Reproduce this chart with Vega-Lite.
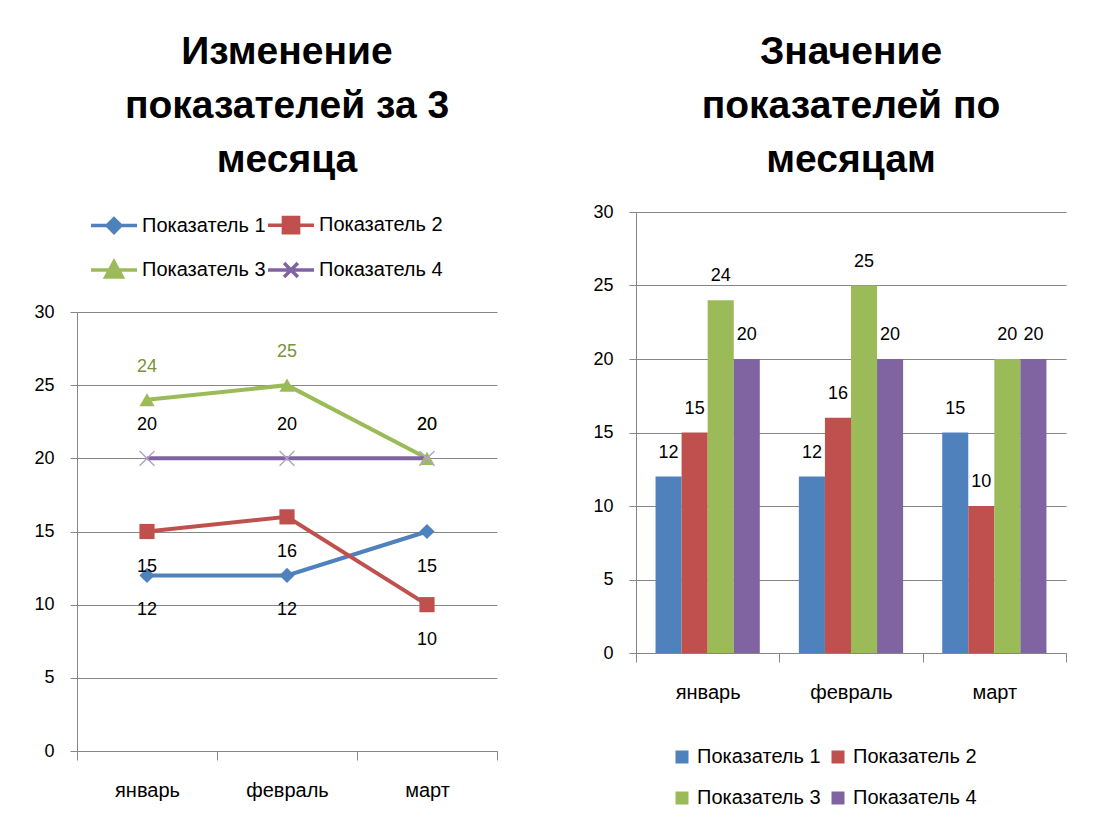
{
  "$schema": "https://vega.github.io/schema/vega-lite/v6.json",
  "background": "white",
  "padding": {"left": 33, "top": 33, "right": 5, "bottom": 5},
  "datasets": {
    "d": [
      {"month": "январь", "series": "Показатель 1", "value": 12},
      {"month": "февраль", "series": "Показатель 1", "value": 12},
      {"month": "март", "series": "Показатель 1", "value": 15},
      {"month": "январь", "series": "Показатель 2", "value": 15},
      {"month": "февраль", "series": "Показатель 2", "value": 16},
      {"month": "март", "series": "Показатель 2", "value": 10},
      {"month": "январь", "series": "Показатель 3", "value": 24},
      {"month": "февраль", "series": "Показатель 3", "value": 25},
      {"month": "март", "series": "Показатель 3", "value": 20},
      {"month": "январь", "series": "Показатель 4", "value": 20},
      {"month": "февраль", "series": "Показатель 4", "value": 20},
      {"month": "март", "series": "Показатель 4", "value": 20}
    ]
  },
  "config": {
    "font": "Liberation Sans",
    "view": {"stroke": null},
    "axis": {
      "labelFont": "Liberation Sans",
      "labelFontSize": 18,
      "labelColor": "#000",
      "domainColor": "#868686",
      "tickColor": "#868686",
      "gridColor": "#868686",
      "gridOpacity": 1,
      "domainWidth": 1,
      "tickWidth": 1
    },
    "axisX": {"labelFontSize": 20},
    "title": {
      "font": "Liberation Sans",
      "fontSize": 39,
      "fontWeight": "bold",
      "color": "#000",
      "lineHeight": 54,
      "anchor": "middle"
    },
    "legend": {
      "labelFont": "Liberation Sans",
      "labelFontSize": 20,
      "labelColor": "#000"
    }
  },
  "spacing": 94,
  "resolve": {
    "scale": {"color": "independent", "shape": "independent", "x": "independent", "y": "independent", "xOffset": "independent"},
    "legend": {"color": "independent", "shape": "independent"}
  },
  "hconcat": [
    {
      "width": 420,
      "height": 439,
      "title": {"text": ["Изменение", "показателей за 3", "месяца"], "offset": 20},
      "data": {"name": "d"},
      "encoding": {
        "x": {
          "field": "month", "type": "nominal",
          "sort": ["январь", "февраль", "март"],
          "scale": {"type": "band", "paddingInner": 0, "paddingOuter": 0},
          "axis": {"title": null, "labelAngle": 0, "tickBand": "extent", "tickSize": 9, "labelPadding": 20, "grid": false}
        },
        "y": {
          "field": "value", "type": "quantitative",
          "scale": {"domain": [0, 30]},
          "axis": {"title": null, "values": [0, 5, 10, 15, 20, 25, 30], "tickSize": 7, "labelPadding": 16, "grid": true}
        }
      },
      "layer": [
        {
          "mark": {"type": "line", "strokeWidth": 4},
          "encoding": {
            "color": {
              "field": "series", "type": "nominal",
              "scale": {"domain": ["Показатель 1", "Показатель 2", "Показатель 3", "Показатель 4"], "range": ["#4F81BD", "#C0504D", "#9BBB59", "#8064A2"]},
              "legend": {
                "orient": "none", "direction": "horizontal", "legendX": 12, "legendY": -112, "columns": 2, "title": null,
                "symbolSize": 2116, "symbolStrokeWidth": 3.5, "labelOffset": 3, "columnPadding": -16, "rowPadding": 5,
                "encode": {
                  "symbols": {
                    "update": {
                      "shape": {"signal": "datum.value === 'Показатель 1' ? 'M-1,0L1,0M0,-0.3L0.3,0L0,0.3L-0.3,0Z' : datum.value === 'Показатель 2' ? 'M-1,0L1,0M-0.33,-0.33L0.33,-0.33L0.33,0.33L-0.33,0.33Z' : datum.value === 'Показатель 3' ? 'M-1,0L1,0M0,-0.36L0.36,0.3L-0.36,0.3Z' : 'M-1,0L1,0M-0.3,-0.3L0.3,0.3M-0.3,0.3L0.3,-0.3'"},
                      "stroke": {"signal": "datum.value === 'Показатель 1' ? '#4F81BD' : datum.value === 'Показатель 2' ? '#C0504D' : datum.value === 'Показатель 3' ? '#9BBB59' : '#8064A2'"},
                      "fill": {"signal": "datum.value === 'Показатель 1' ? '#4F81BD' : datum.value === 'Показатель 2' ? '#C0504D' : datum.value === 'Показатель 3' ? '#9BBB59' : '#8064A2'"},
                      "strokeWidth": {"value": 3.5},
                      "opacity": {"value": 1}
                    }
                  }
                }
              }
            }
          }
        },
        {
          "transform": [{"filter": "datum.series !== 'Показатель 4'"}],
          "mark": {"type": "point", "filled": true, "size": 230, "opacity": 1},
          "encoding": {
            "color": {"field": "series", "type": "nominal"},
            "shape": {
              "field": "series", "type": "nominal",
              "scale": {"domain": ["Показатель 1", "Показатель 2", "Показатель 3"], "range": ["diamond", "square", "triangle-up"]},
              "legend": null
            }
          }
        },
        {
          "transform": [{"filter": "datum.series === 'Показатель 4'"}],
          "mark": {"type": "point", "shape": "M-1,-1L1,1M-1,1L1,-1", "size": 220, "filled": false, "strokeWidth": 1.5, "color": "#B3A2C7", "opacity": 1}
        },
        {
          "transform": [{"filter": "datum.series === 'Показатель 1' || datum.series === 'Показатель 2'"}],
          "mark": {"type": "text", "dy": 35, "fontSize": 18, "font": "Liberation Sans", "color": "#000", "baseline": "middle"},
          "encoding": {"text": {"field": "value", "type": "quantitative"}}
        },
        {
          "transform": [{"filter": "datum.series === 'Показатель 3' || datum.series === 'Показатель 4'"}],
          "mark": {"type": "text", "dy": -33, "fontSize": 18, "font": "Liberation Sans", "baseline": "middle"},
          "encoding": {
            "text": {"field": "value", "type": "quantitative"},
            "color": {"condition": {"test": "datum.series === 'Показатель 3'", "value": "#77933C"}, "value": "#000"}
          }
        }
      ]
    },
    {
      "width": 430,
      "height": 341,
      "title": {"text": ["Значение", "показателей по", "месяцам"], "offset": 23},
      "data": {"name": "d"},
      "encoding": {
        "x": {
          "field": "month", "type": "nominal",
          "sort": ["январь", "февраль", "март"],
          "scale": {"type": "band", "paddingInner": 0, "paddingOuter": 0},
          "axis": {"title": null, "labelAngle": 0, "tickBand": "extent", "tickSize": 9, "labelPadding": 20, "grid": false}
        },
        "xOffset": {
          "field": "series", "type": "nominal",
          "sort": ["Показатель 1", "Показатель 2", "Показатель 3", "Показатель 4"],
          "scale": {"paddingInner": 0, "paddingOuter": 0.75}
        },
        "y": {
          "field": "value", "type": "quantitative",
          "scale": {"domain": [0, 30], "range": [341, -100]},
          "axis": {"title": null, "values": [0, 5, 10, 15, 20, 25, 30], "tickSize": 7, "labelPadding": 16, "grid": true}
        }
      },
      "layer": [
        {
          "mark": {"type": "bar"},
          "encoding": {
            "color": {
              "field": "series", "type": "nominal",
              "scale": {"domain": ["Показатель 1", "Показатель 2", "Показатель 3", "Показатель 4"], "range": ["#4F81BD", "#C0504D", "#9BBB59", "#8064A2"]},
              "legend": {
                "orient": "none", "direction": "horizontal", "legendX": 36, "legendY": 435, "columns": 2, "title": null,
                "symbolType": "square", "symbolSize": 169, "symbolStrokeWidth": 0, "symbolOpacity": 1,
                "labelOffset": 5, "columnPadding": 7, "rowPadding": 21
              }
            }
          }
        },
        {
          "mark": {"type": "text", "dy": -24, "fontSize": 18, "font": "Liberation Sans", "color": "#000", "baseline": "middle"},
          "encoding": {"text": {"field": "value", "type": "quantitative"}}
        }
      ]
    }
  ]
}
